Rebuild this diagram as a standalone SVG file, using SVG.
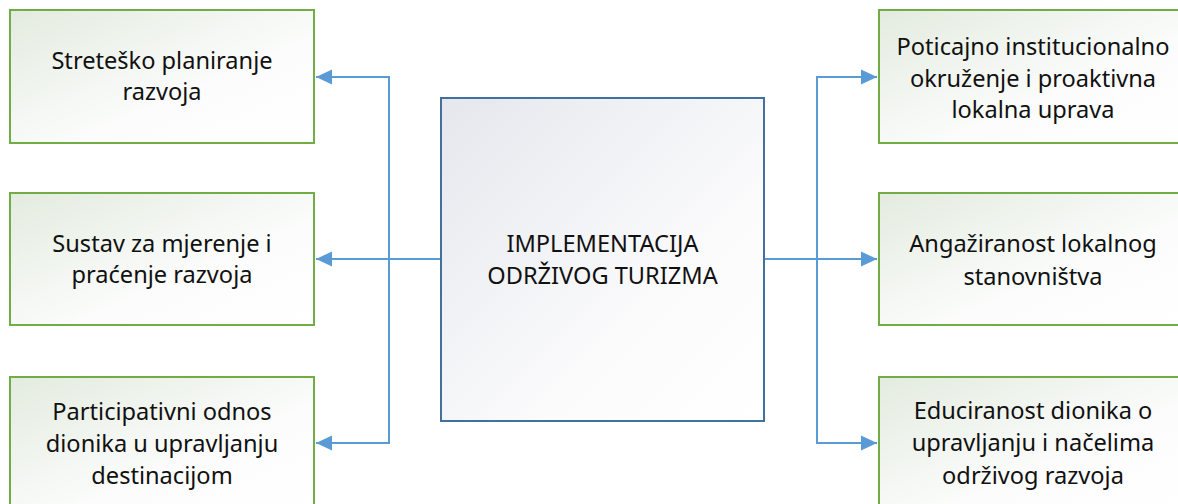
<svg xmlns="http://www.w3.org/2000/svg" width="1178" height="504" viewBox="0 0 1178 504">
<style>
.box{stroke:#70ad47;stroke-width:2;fill:url(#gGreen)}
.center{stroke:#41719c;stroke-width:2;fill:url(#gBlue)}
.t{font-family:"Noto Sans","Open Sans",sans-serif;font-size:23.6px;fill:#111;text-anchor:middle}
.c{fill:none;stroke:#5b9bd5;stroke-width:2}
</style>
<defs>
<linearGradient id="gGreen" x1="0" y1="0" x2="1" y2="1">
<stop offset="0" stop-color="#e3ebdf"/>
<stop offset="0.6" stop-color="#fbfcfb"/>
<stop offset="1" stop-color="#ffffff"/>
</linearGradient>
<linearGradient id="gBlue" x1="0" y1="0" x2="1" y2="1">
<stop offset="0" stop-color="#e5e7ed"/>
<stop offset="0.65" stop-color="#fbfbfc"/>
<stop offset="1" stop-color="#ffffff"/>
</linearGradient>
<marker id="arr" markerUnits="userSpaceOnUse" markerWidth="17" markerHeight="17" viewBox="0 0 17 17" refX="16" refY="8.5" orient="auto">
<path d="M0,1 L16,8.5 L0,16 Z" fill="#5b9bd5"/>
</marker>
</defs>
<g id="connectors">
<path class="c" d="M441,259 H316" marker-end="url(#arr)"/>
<path class="c" d="M389,259 V77 H316" marker-end="url(#arr)"/>
<path class="c" d="M389,259 V443 H316" marker-end="url(#arr)"/>
<path class="c" d="M764,259 H877" marker-end="url(#arr)"/>
<path class="c" d="M817,259 V77 H877" marker-end="url(#arr)"/>
<path class="c" d="M817,259 V443 H877" marker-end="url(#arr)"/>
</g>
<g id="center">
<rect class="center" x="441" y="98" width="323" height="323"/>
<text class="t" x="602.5" y="252">IMPLEMENTACIJA</text>
<text class="t" x="602.5" y="284">ODRŽIVOG TURIZMA</text>
</g>
<g id="left1">
<rect class="box" x="10" y="10" width="304" height="133"/>
<text class="t" x="162" y="69">Streteško planiranje</text>
<text class="t" x="162" y="100">razvoja</text>
</g>
<g id="left2">
<rect class="box" x="10" y="193" width="304" height="132"/>
<text class="t" x="162" y="252">Sustav za mjerenje i</text>
<text class="t" x="162" y="283">praćenje razvoja</text>
</g>
<g id="left3">
<rect class="box" x="10" y="377" width="304" height="133"/>
<text class="t" x="162" y="420">Participativni odnos</text>
<text class="t" x="162" y="452">dionika u upravljanju</text>
<text class="t" x="162" y="484">destinacijom</text>
</g>
<g id="right1">
<rect class="box" x="879" y="10" width="304" height="133"/>
<text class="t" x="1033" y="55">Poticajno institucionalno</text>
<text class="t" x="1033" y="87">okruženje i proaktivna</text>
<text class="t" x="1033" y="118">lokalna uprava</text>
</g>
<g id="right2">
<rect class="box" x="879" y="193" width="304" height="132"/>
<text class="t" x="1033" y="252">Angažiranost lokalnog</text>
<text class="t" x="1033" y="285">stanovništva</text>
</g>
<g id="right3">
<rect class="box" x="879" y="377" width="304" height="133"/>
<text class="t" x="1033" y="419">Educiranost dionika o</text>
<text class="t" x="1033" y="451">upravljanju i načelima</text>
<text class="t" x="1033" y="484">održivog razvoja</text>
</g>
</svg>
